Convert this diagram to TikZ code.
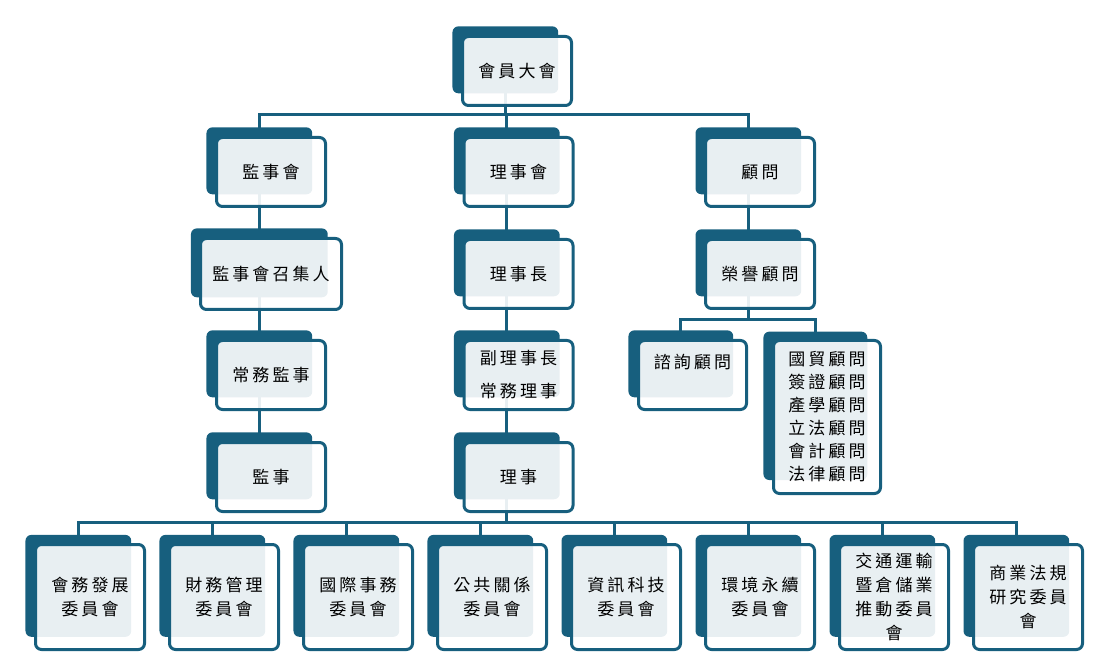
\documentclass[tikz,border=0pt]{standalone}
\usepackage{fontspec}
\newfontfamily\cjk[LetterSpace=18]{Noto Sans CJK TC}
\usetikzlibrary{shadows,backgrounds}
\definecolor{deep}{HTML}{175F7E}

\begin{document}
\begin{tikzpicture}[%
  x=1pt, y=-1pt,
  unit/.style = {draw=deep, line width=3pt, rounded corners=6pt,
    fill=white, fill opacity=0.9, text opacity=1,
    minimum width=109pt, minimum height=69pt, inner sep=0pt, align=center,
    font=\cjk\fontsize{17pt}{24pt}\selectfont,
    general shadow={fill=deep, fill opacity=1, shadow xshift=-12pt,
      shadow yshift=11.5pt, shadow scale=0.97}},
  link/.style = {draw=deep, line width=3pt},
]
  \useasboundingbox (0,0) rectangle (1098,660);

  % top and second row
  \node[unit] (top) at (517,71) {會員大會};
  \node[unit] (jsh) at (271,172) {監事會};
  \node[unit] (lsh) at (518.5,172) {理事會};
  \node[unit] (gw)  at (760,172) {顧問};

  % third row
  \node[unit, minimum width=141pt, minimum height=71pt] (jzr) at (271,274) {監事會召集人};
  \node[unit] (lsz) at (518.5,274) {理事長};
  \node[unit] (ry)  at (760,274) {榮譽顧問};

  % fourth row
  \node[unit] (cwjs) at (271,375) {常務監事};
  \node[unit] (flsz) at (518.5,375) {副理事長\\[9pt]常務理事};
  \node[unit, minimum width=108pt, text height=12pt, text depth=26pt] (zx) at (692.5,375) {諮詢顧問};
  \node[unit, minimum width=107pt, minimum height=153pt,
    font=\cjk\fontsize{17pt}{23pt}\selectfont] (gm) at (827,417)
    {國貿顧問\\簽證顧問\\產學顧問\\立法顧問\\會計顧問\\法律顧問};

  % fifth row
  \node[unit] (js) at (271,477) {監事};
  \node[unit] (ls) at (518.5,477) {理事};

  % committees
  \foreach \txt [count=\i] in {{會務發展\\委員會}, {財務管理\\委員會},
      {國際事務\\委員會}, {公共關係\\委員會}, {資訊科技\\委員會},
      {環境永續\\委員會}, {交通運輸\\暨倉儲業\\推動委員\\會},
      {商業法規\\研究委員\\會}}
    \node[unit, minimum height=105pt] (com\i) at (-44+134*\i,597) {\txt};

  \coordinate (b1) at (505,115);
  \coordinate (b2) at (748,320);
  \coordinate (b3) at (506.5,522);

  \begin{scope}[on background layer]
    \draw[link] ([xshift=-12pt]top.center) -- (b1);
    \draw[link] ([xshift=-12pt]jsh.center) |- (b1) -| ([xshift=-12pt]gw.center);
    \draw[link] ([xshift=-12pt]lsh.center) |- (b1);
    \foreach \a/\b in {jsh/jzr, jzr/cwjs, cwjs/js, lsh/lsz, lsz/flsz, flsz/ls, gw/ry}
      \draw[link] ([xshift=-12pt]\a.center) -- ([xshift=-12pt]\b.center);
    \draw[link] ([xshift=-12pt]ry.center) -- (b2);
    \draw[link] ([xshift=-12pt]zx.center) |- (b2) -| ([xshift=-12pt]gm.center);
    \draw[link] ([xshift=-12pt]ls.center) -- (b3);
    \draw[link] ([xshift=-12pt]com1.center) |- (b3) -| ([xshift=-12pt]com8.center);
    \foreach \i in {2,...,7}
      \draw[link] ([xshift=-12pt]com\i.center) -- ([xshift=-12pt]com\i.center |- b3);
  \end{scope}
\end{tikzpicture}
\end{document}
